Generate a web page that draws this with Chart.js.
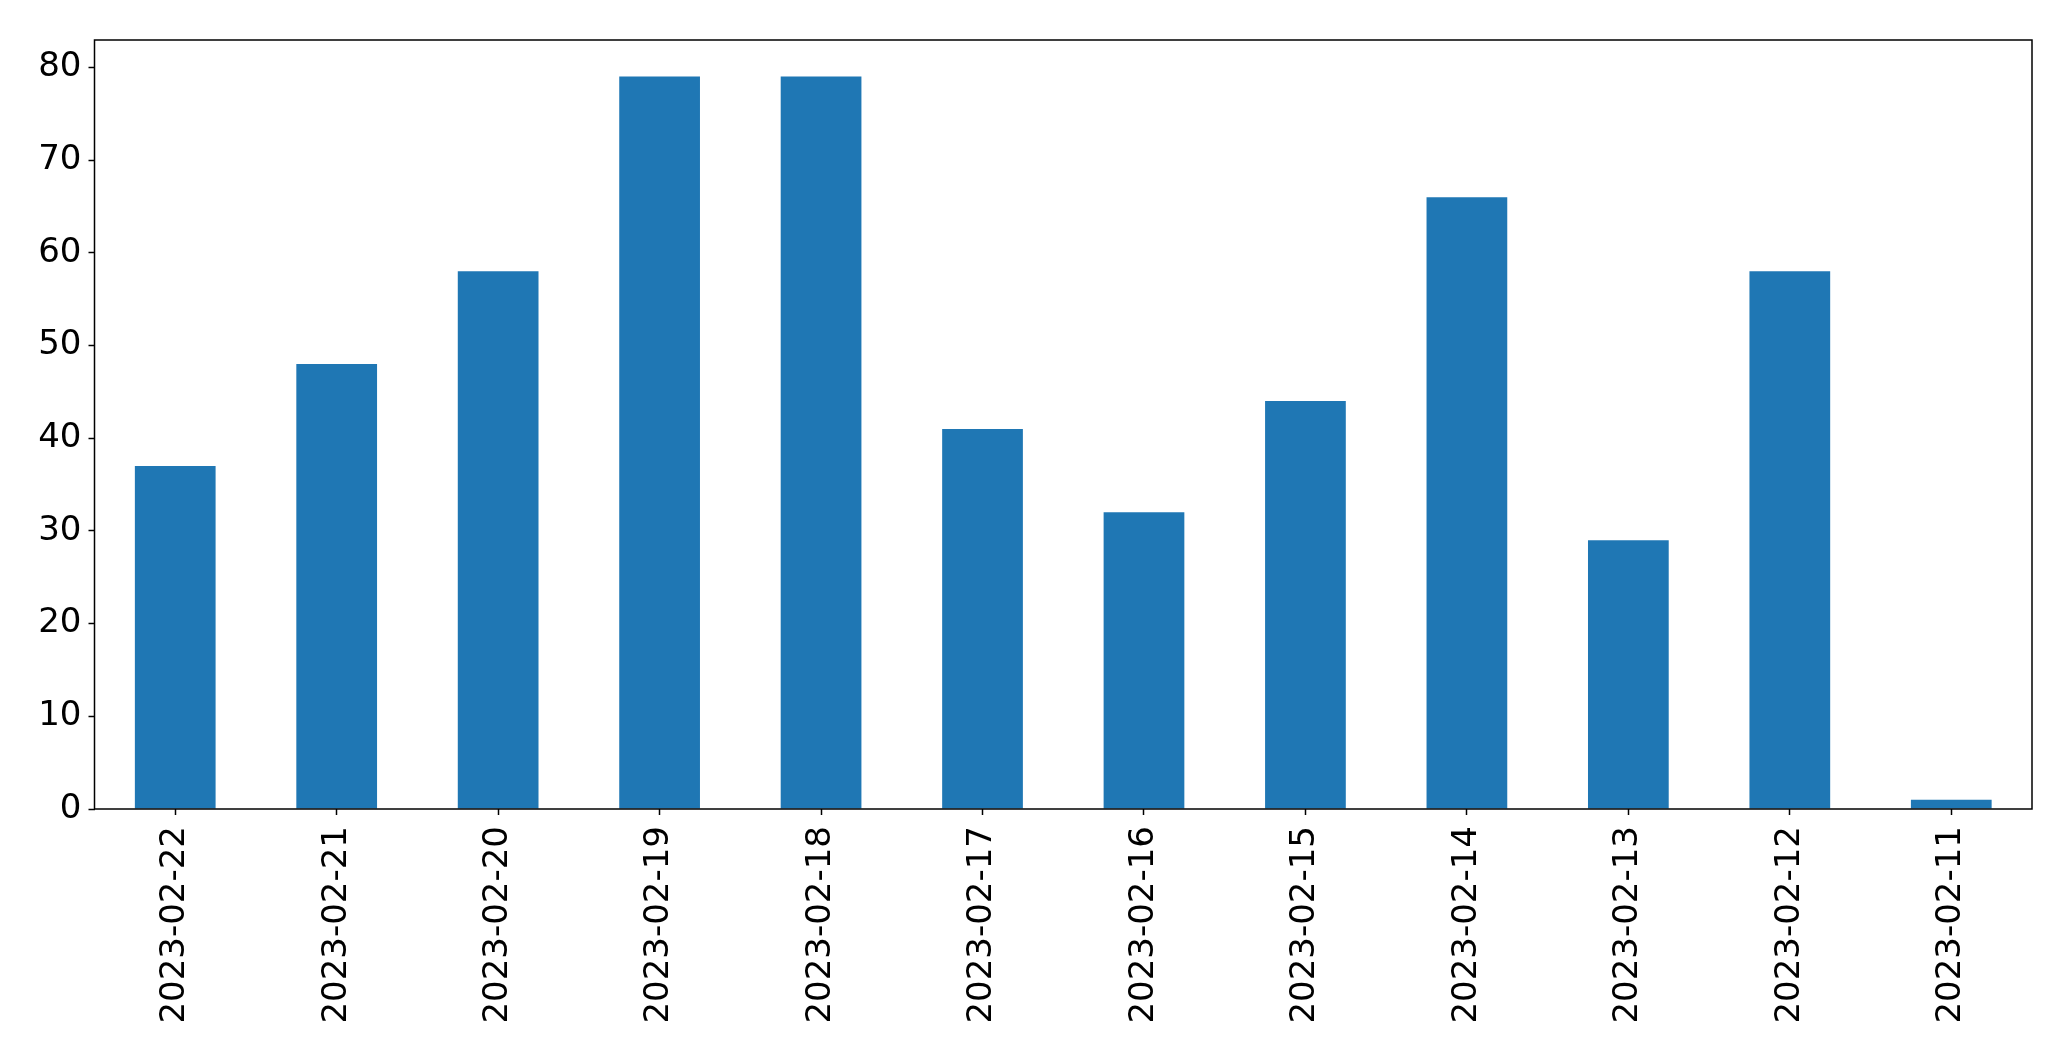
<!DOCTYPE html>
<html>
<head>
<meta charset="utf-8">
<script src="https://cdn.jsdelivr.net/npm/chart.js@4"></script>
<style>
  html, body { margin: 0; padding: 0; background: #fff; }
  canvas { display: block; }
</style>
</head>
<body>
<canvas id="barChart" width="2071" height="1061"></canvas>
<script>
/* ========= DATA ========= */
const dates = [
  "2023-02-22", "2023-02-21", "2023-02-20", "2023-02-19",
  "2023-02-18", "2023-02-17", "2023-02-16", "2023-02-15",
  "2023-02-14", "2023-02-13", "2023-02-12", "2023-02-11"
];
const counts = [37, 48, 58, 79, 79, 41, 32, 44, 66, 29, 58, 1];
const yTicks = [0, 10, 20, 30, 40, 50, 60, 70, 80];

/* ========= FRAME ========= */
const frame = {
  id: "frame",
  afterDatasetsDraw(chart) {
    const { ctx, chartArea: a } = chart;
    ctx.save();
    ctx.strokeStyle = "#000";
    ctx.lineWidth = 1.5;
    ctx.strokeRect(a.left, a.top, a.right - a.left, a.bottom - a.top);
    ctx.restore();
  }
};

const font = { family: "DejaVu Sans", size: 34 };

/* ========= INIT ========= */
new Chart(document.getElementById("barChart"), {
  type: "bar",
  data: {
    labels: dates,
    datasets: [{
      data: counts,
      backgroundColor: "#1f77b4",
      barPercentage: 0.5,
      categoryPercentage: 1
    }]
  },
  options: {
    responsive: false,
    animation: false,
    layout: { padding: { top: 40, right: 39, left: 0, bottom: 0 } },
    plugins: { legend: { display: false }, tooltip: { enabled: false } },
    scales: {
      x: {
        grid: { offset: false, drawOnChartArea: false, tickLength: 6, tickColor: "#000", tickWidth: 1.5 },
        border: { display: false },
        ticks: { color: "#000", font, minRotation: 90, maxRotation: 90, padding: 11 },
        afterFit(s) { s.height = 252; }
      },
      y: {
        min: 0,
        max: 82.95,
        grid: { drawOnChartArea: false, tickLength: 6, tickColor: "#000", tickWidth: 1.5 },
        border: { display: false },
        ticks: { color: "#000", font, padding: 7 },
        afterBuildTicks(s) { s.ticks = yTicks.map(v => ({ value: v })); },
        afterFit(s) { s.width = 94.5; }
      }
    }
  },
  plugins: [frame]
});
</script>
</body>
</html>
